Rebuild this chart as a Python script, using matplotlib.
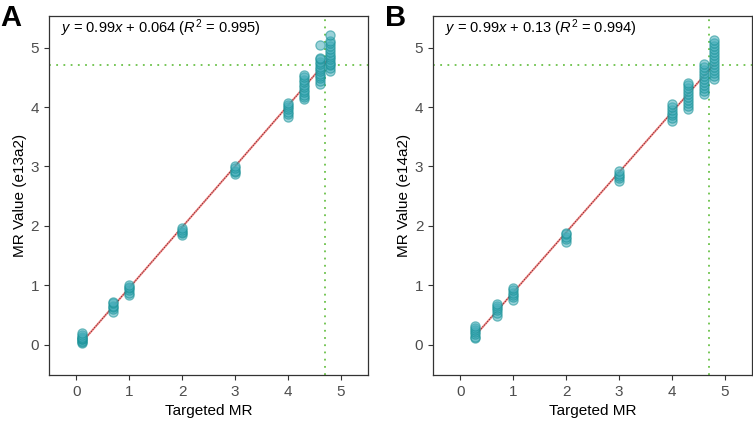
import numpy as np
import matplotlib
matplotlib.use("Agg")
import matplotlib.pyplot as plt

plt.rcParams["font.family"] = ["Liberation Sans", "DejaVu Sans"]
plt.rcParams["mathtext.fontset"] = "custom"
plt.rcParams["mathtext.rm"] = "Liberation Sans"
plt.rcParams["mathtext.it"] = "Liberation Sans:italic"

# =========================
# DATA
# =========================
target_a = [0.1, 0.7, 1.0, 2.0, 3.0, 4.0, 4.3, 4.6, 4.8]
values_a = [
    [0.03, 0.05, 0.07, 0.09, 0.10, 0.12, 0.14, 0.17, 0.20],
    [0.56, 0.60, 0.63, 0.66, 0.70, 0.72],
    [0.84, 0.88, 0.92, 0.95, 0.98, 1.01],
    [1.84, 1.88, 1.90, 1.93, 1.96],
    [2.87, 2.90, 2.93, 2.97, 3.00],
    [3.84, 3.88, 3.92, 3.96, 4.00, 4.04, 4.07],
    [4.13, 4.17, 4.21, 4.25, 4.29, 4.33, 4.37, 4.42, 4.46, 4.50, 4.54],
    [4.39, 4.43, 4.48, 4.52, 4.56, 4.60, 4.64, 4.68, 4.72, 4.76, 4.80, 4.83, 5.05],
    [4.60, 4.65, 4.70, 4.73, 4.76, 4.80, 4.84, 4.88, 4.93, 4.97, 5.02, 5.07, 5.11, 5.21],
]
label_a = r"$y$ = 0.99$x$ + 0.064 ($R^2$ = 0.995)"
ylabel_a = "MR Value (e13a2)"

target_b = [0.27, 0.7, 1.0, 2.0, 3.0, 4.0, 4.3, 4.6, 4.8]
values_b = [
    [0.11, 0.14, 0.18, 0.21, 0.25, 0.29, 0.32],
    [0.48, 0.54, 0.58, 0.62, 0.66, 0.69],
    [0.75, 0.80, 0.84, 0.88, 0.92, 0.96],
    [1.73, 1.78, 1.82, 1.86, 1.88],
    [2.76, 2.80, 2.84, 2.88, 2.92],
    [3.77, 3.82, 3.86, 3.90, 3.95, 4.00, 4.05],
    [3.97, 4.02, 4.07, 4.12, 4.17, 4.22, 4.27, 4.32, 4.37, 4.40],
    [4.22, 4.27, 4.32, 4.37, 4.42, 4.47, 4.52, 4.57, 4.62, 4.67, 4.72],
    [4.47, 4.52, 4.57, 4.62, 4.67, 4.72, 4.77, 4.82, 4.87, 4.92, 4.97, 5.02, 5.08, 5.13],
]
label_b = r"$y$ = 0.99$x$ + 0.13 ($R^2$ = 0.994)"
ylabel_b = "MR Value (e14a2)"

threshold = 4.7
ticks = [0, 1, 2, 3, 4, 5]

# =========================
# PLOT
# =========================
fig = plt.figure(figsize=(7.53, 4.22), dpi=100)
ax_a = fig.add_axes([0.065, 0.111, 0.424, 0.851])
ax_b = fig.add_axes([0.575, 0.111, 0.424, 0.851])


def draw_panel(ax, targets, values, label, ylabel):
    xs = np.concatenate([[t] * len(v) for t, v in zip(targets, values)])
    ys = np.concatenate(values)

    ax.axhline(threshold, color="#6cc24a", ls=(0, (1, 3)), lw=1.3, zorder=1)
    ax.axvline(threshold, color="#6cc24a", ls=(0, (1, 3)), lw=1.3, zorder=1)

    # regression line through the points
    slope, icept = np.polyfit(xs, ys, 1)
    lx = np.array([min(targets), max(targets)])
    ax.plot(lx, slope * lx + icept, color="#f07c7c", lw=1.4, zorder=2)
    ax.plot(lx, slope * lx + icept, color="black", ls=(0, (0.7, 2.2)),
            lw=0.6, zorder=2.5)

    ax.scatter(xs, ys, s=44, facecolor="#47aebb", edgecolor="#138f94",
               alpha=0.55, lw=0.9, zorder=3)

    ax.text(0.038, 0.967, label, transform=ax.transAxes, fontsize=10.5,
            va="center", ha="left")

    ax.set_xlim(-0.52, 5.52)
    ax.set_ylim(-0.51, 5.53)
    ax.set_xticks(ticks)
    ax.set_yticks(ticks)
    ax.tick_params(colors="#333333", labelcolor="#4d4d4d", labelsize=11,
                   length=3.5, width=0.8)
    for sp in ax.spines.values():
        sp.set_color("#333333")
        sp.set_linewidth(0.9)
    ax.set_xlabel("Targeted MR", fontsize=11, labelpad=4)
    ax.set_ylabel(ylabel, fontsize=11, labelpad=3)


draw_panel(ax_a, target_a, values_a, label_a, ylabel_a)
draw_panel(ax_b, target_b, values_b, label_b, ylabel_b)

fig.text(0.0, 0.958, "A", fontsize=21, fontweight="bold", va="center", ha="left")
fig.text(0.511, 0.958, "B", fontsize=21, fontweight="bold", va="center", ha="left")

fig.savefig("out.png", dpi=100)
plt.close(fig)
